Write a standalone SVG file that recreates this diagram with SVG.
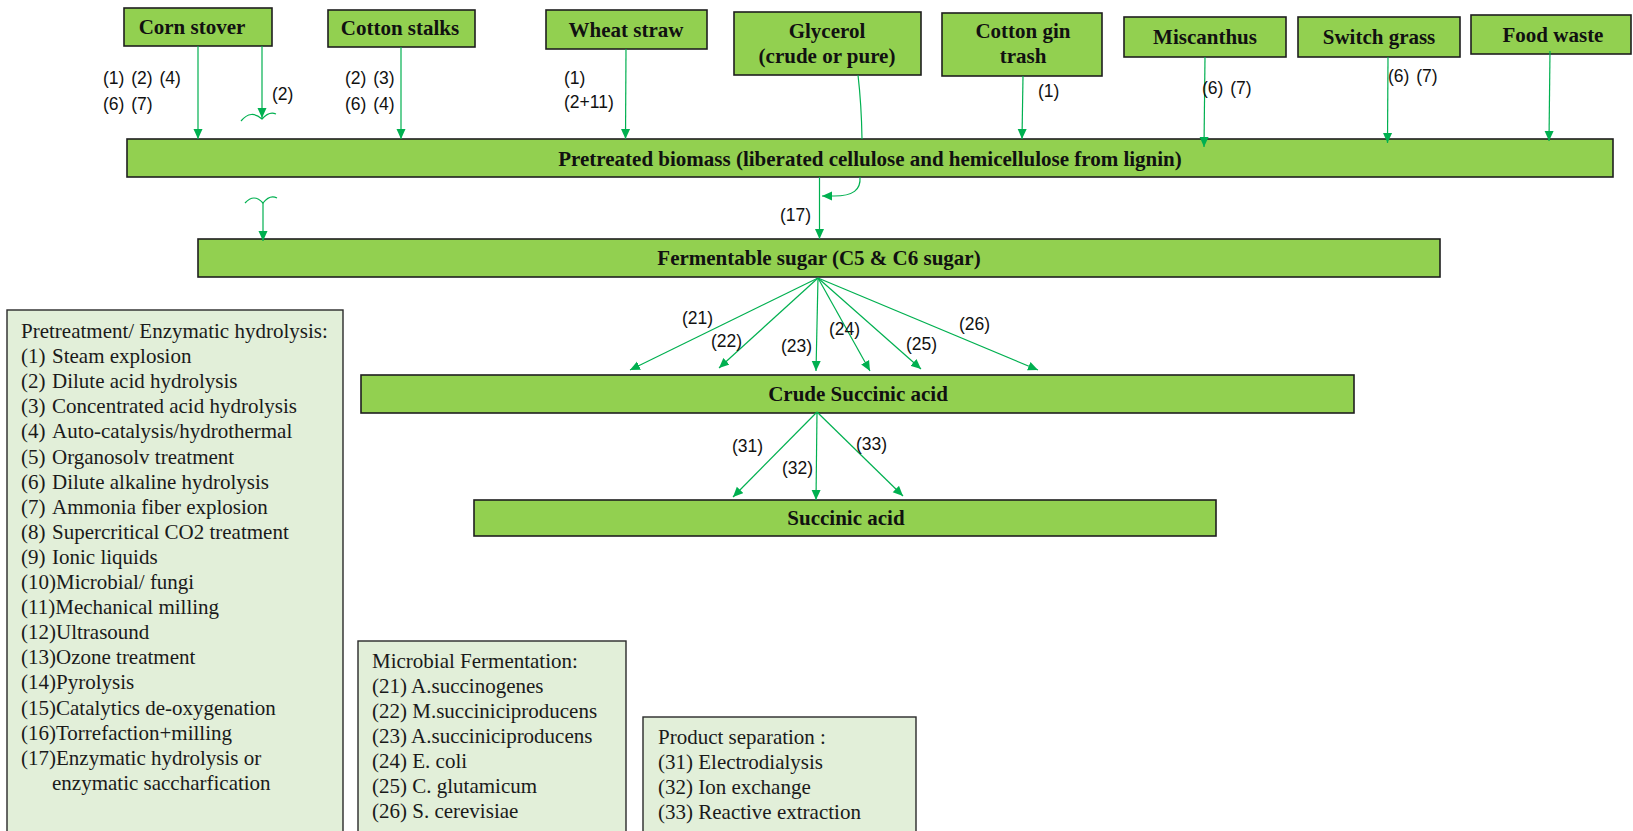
<svg xmlns="http://www.w3.org/2000/svg" width="1633" height="831" viewBox="0 0 1633 831">
  <defs>
    <marker id="ah" markerUnits="userSpaceOnUse" markerWidth="10" markerHeight="10" refX="10" refY="5" orient="auto">
      <path d="M0,0.5 L10,5 L0,9.5 z" fill="#00b050"/>
    </marker>
    <style>
      .bar { fill: #92d050; stroke: #1e1e1e; stroke-width: 1.6; }
      .src { fill: #92d050; stroke: #1e1e1e; stroke-width: 1.6; }
      .key { fill: #e2efd9; stroke: #2a2a2a; stroke-width: 1.4; }
      .bt { font-family: "Liberation Serif", "Times New Roman", serif; font-weight: bold; font-size: 21px; fill: #111; text-anchor: middle; }
      .kt { font-family: "Liberation Serif", "Times New Roman", serif; font-size: 21px; fill: #1a1a1a; }
      .lb { font-family: "Liberation Sans", Arial, sans-serif; font-size: 17.5px; fill: #111; word-spacing: 2px; }
      .cn { fill: none; stroke: #00b050; stroke-width: 1.2; }
      .ar { fill: none; stroke: #00b050; stroke-width: 1.2; marker-end: url(#ah); }
    </style>
  </defs>

  <rect width="1633" height="831" fill="#ffffff"/>

  <!-- feedstock boxes -->
  <g id="corn-stover">
    <rect class="src" x="124" y="8" width="148" height="38"/>
    <text class="bt" x="192" y="34">Corn stover</text>
  </g>
  <g id="cotton-stalks">
    <rect class="src" x="328" y="10" width="147" height="37"/>
    <text class="bt" x="400" y="35">Cotton stalks</text>
  </g>
  <g id="wheat-straw">
    <rect class="src" x="546" y="10" width="161" height="39"/>
    <text class="bt" x="626" y="37">Wheat straw</text>
  </g>
  <g id="glycerol">
    <rect class="src" x="734" y="12" width="187" height="63"/>
    <text class="bt" x="827" y="38">Glycerol</text>
    <text class="bt" x="827" y="63">(crude or pure)</text>
  </g>
  <g id="cotton-gin-trash">
    <rect class="src" x="942" y="13" width="160" height="63"/>
    <text class="bt" x="1023" y="38">Cotton gin</text>
    <text class="bt" x="1023" y="63">trash</text>
  </g>
  <g id="miscanthus">
    <rect class="src" x="1124" y="17" width="162" height="40"/>
    <text class="bt" x="1205" y="44">Miscanthus</text>
  </g>
  <g id="switch-grass">
    <rect class="src" x="1298" y="17" width="162" height="40"/>
    <text class="bt" x="1379" y="44">Switch grass</text>
  </g>
  <g id="food-waste">
    <rect class="src" x="1471" y="15" width="160" height="39"/>
    <text class="bt" x="1553" y="42">Food waste</text>
  </g>

  <!-- process stages -->
  <g id="pretreated-biomass">
    <rect class="bar" x="127" y="139" width="1486" height="38"/>
    <text class="bt" x="870" y="165.5">Pretreated biomass (liberated cellulose and hemicellulose from lignin)</text>
  </g>
  <g id="fermentable-sugar">
    <rect class="bar" x="198" y="239" width="1242" height="38"/>
    <text class="bt" x="819" y="265">Fermentable sugar (C5 &amp; C6 sugar)</text>
  </g>
  <g id="crude-succinic-acid">
    <rect class="bar" x="361" y="375" width="993" height="38"/>
    <text class="bt" x="858" y="401">Crude Succinic acid</text>
  </g>
  <g id="succinic-acid">
    <rect class="bar" x="474" y="500" width="742" height="36"/>
    <text class="bt" x="846" y="525">Succinic acid</text>
  </g>

  <!-- legend: pretreatment methods -->
  <g id="legend-pretreatment">
    <rect class="key" x="7" y="310" width="336" height="530"/>
    <text class="kt" x="21" y="338">Pretreatment/ Enzymatic hydrolysis:</text>
    <text class="kt" x="21" y="363.1">(1)</text><text class="kt" x="52" y="363.1">Steam explosion</text>
    <text class="kt" x="21" y="388.2">(2)</text><text class="kt" x="52" y="388.2">Dilute acid hydrolysis</text>
    <text class="kt" x="21" y="413.3">(3)</text><text class="kt" x="52" y="413.3">Concentrated acid hydrolysis</text>
    <text class="kt" x="21" y="438.4">(4)</text><text class="kt" x="52" y="438.4">Auto-catalysis/hydrothermal</text>
    <text class="kt" x="21" y="463.5">(5)</text><text class="kt" x="52" y="463.5">Organosolv treatment</text>
    <text class="kt" x="21" y="488.6">(6)</text><text class="kt" x="52" y="488.6">Dilute alkaline  hydrolysis</text>
    <text class="kt" x="21" y="513.7">(7)</text><text class="kt" x="52" y="513.7">Ammonia fiber explosion</text>
    <text class="kt" x="21" y="538.8">(8)</text><text class="kt" x="52" y="538.8">Supercritical  CO2 treatment</text>
    <text class="kt" x="21" y="563.9">(9)</text><text class="kt" x="52" y="563.9">Ionic liquids</text>
    <text class="kt" x="21" y="589">(10)Microbial/ fungi</text>
    <text class="kt" x="21" y="614.1">(11)Mechanical milling</text>
    <text class="kt" x="21" y="639.2">(12)Ultrasound</text>
    <text class="kt" x="21" y="664.3">(13)Ozone treatment</text>
    <text class="kt" x="21" y="689.4">(14)Pyrolysis</text>
    <text class="kt" x="21" y="714.5">(15)Catalytics de-oxygenation</text>
    <text class="kt" x="21" y="739.6">(16)Torrefaction+milling</text>
    <text class="kt" x="21" y="764.7">(17)Enzymatic hydrolysis or</text>
    <text class="kt" x="52" y="789.8">enzymatic saccharfication</text>
  </g>

  <!-- legend: fermentation organisms -->
  <g id="legend-fermentation">
    <rect class="key" x="358" y="641" width="268" height="199"/>
    <text class="kt" x="372" y="668">Microbial  Fermentation:</text>
    <text class="kt" x="372" y="693">(21) A.succinogenes</text>
    <text class="kt" x="372" y="718">(22) M.succiniciproducens</text>
    <text class="kt" x="372" y="743">(23) A.succiniciproducens</text>
    <text class="kt" x="372" y="768">(24) E. coli</text>
    <text class="kt" x="372" y="793">(25) C. glutamicum</text>
    <text class="kt" x="372" y="818">(26) S. cerevisiae</text>
  </g>

  <!-- legend: downstream separation -->
  <g id="legend-separation">
    <rect class="key" x="643" y="717" width="273" height="123"/>
    <text class="kt" x="658" y="744">Product separation :</text>
    <text class="kt" x="658" y="769">(31) Electrodialysis</text>
    <text class="kt" x="658" y="794">(32) Ion exchange</text>
    <text class="kt" x="658" y="819">(33) Reactive extraction</text>
  </g>

  <!-- connectors -->
  <g id="connectors">
    <!-- feedstocks to pretreated biomass -->
    <line class="ar" x1="198" y1="46" x2="198" y2="139"/>
    <line class="ar" x1="262" y1="46" x2="262" y2="118"/>
    <path class="cn" d="M241,121 Q251,109 262,119 Q269,111 276,114"/>
    <line class="ar" x1="401" y1="47" x2="401" y2="139"/>
    <line class="ar" x1="626" y1="49" x2="625.5" y2="139"/>
    <path class="cn" d="M858,75 Q861.5,105 862,139"/>
    <line class="ar" x1="1023" y1="76" x2="1022" y2="139"/>
    <line class="ar" x1="1205" y1="57" x2="1204" y2="147"/>
    <line class="ar" x1="1388" y1="57" x2="1387.5" y2="143"/>
    <line class="ar" x1="1550" y1="51" x2="1549" y2="141"/>

    <!-- pretreated biomass to fermentable sugar -->
    <path class="ar" d="M860,177 C861,190 853,196 834,196 L822,196"/>
    <line class="ar" x1="819.5" y1="177" x2="819.5" y2="239"/>
    <path class="cn" d="M245,203 Q254,193 263,203 Q270,194 277,198"/>
    <line class="ar" x1="263" y1="203" x2="263" y2="241"/>

    <!-- fermentable sugar to crude succinic acid -->
    <line class="ar" x1="818" y1="278" x2="630" y2="370"/>
    <line class="ar" x1="818" y1="278" x2="719" y2="368"/>
    <line class="ar" x1="818" y1="278" x2="816" y2="371"/>
    <line class="ar" x1="818" y1="278" x2="870" y2="371"/>
    <line class="ar" x1="818" y1="278" x2="921" y2="369"/>
    <line class="ar" x1="818" y1="278" x2="1038" y2="370"/>

    <!-- crude succinic acid to succinic acid -->
    <line class="ar" x1="817" y1="412" x2="733" y2="497"/>
    <line class="ar" x1="817" y1="412" x2="816" y2="500"/>
    <line class="ar" x1="817" y1="412" x2="903" y2="496"/>

    <!-- method labels -->
    <text class="lb" x="103" y="84">(1) (2) (4)</text>
    <text class="lb" x="103" y="109.5">(6) (7)</text>
    <text class="lb" x="272" y="99.5">(2)</text>
    <text class="lb" x="345" y="84">(2) (3)</text>
    <text class="lb" x="345" y="109.5">(6) (4)</text>
    <text class="lb" x="564" y="83.5">(1)</text>
    <text class="lb" x="564" y="108">(2+11)</text>
    <text class="lb" x="1038" y="96.5">(1)</text>
    <text class="lb" x="1202" y="93.5">(6) (7)</text>
    <text class="lb" x="1388" y="82">(6) (7)</text>
    <text class="lb" x="780" y="221">(17)</text>
    <text class="lb" x="682" y="324">(21)</text>
    <text class="lb" x="711" y="347">(22)</text>
    <text class="lb" x="781" y="352">(23)</text>
    <text class="lb" x="829" y="335">(24)</text>
    <text class="lb" x="906" y="350">(25)</text>
    <text class="lb" x="959" y="330">(26)</text>
    <text class="lb" x="732" y="452">(31)</text>
    <text class="lb" x="782" y="474">(32)</text>
    <text class="lb" x="856" y="450">(33)</text>
  </g>
</svg>
